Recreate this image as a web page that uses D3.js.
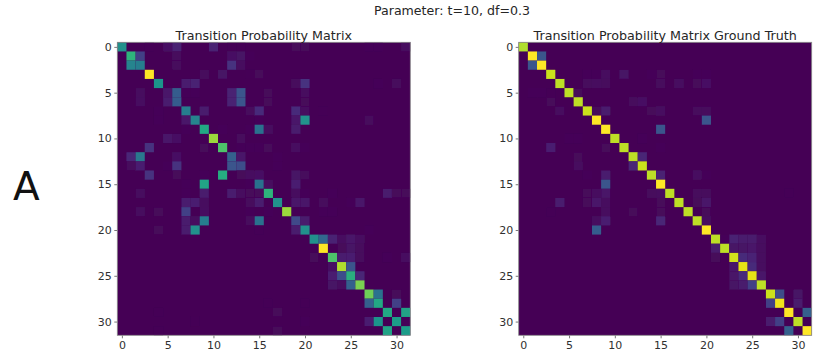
<!DOCTYPE html>
<html><head><meta charset="utf-8">
<script src="https://cdn.jsdelivr.net/npm/d3@7"></script>
<style>
html,body{margin:0;padding:0;background:#fff;overflow:hidden}
text{font-family:"DejaVu Sans",sans-serif;fill:#262626}
</style></head><body>
<svg id="c" width="830" height="359"></svg>
<script>
const suptitle = "Parameter: t=10, df=0.3";
const titleLeft = "Transition Probability Matrix";
const titleRight = "Transition Probability Matrix Ground Truth";
const panelLabel = "A";
const tickValues = [0,5,10,15,20,25,30];
const size = 32;
// Each row lists [column, value] pairs; omitted cells are near zero.
const estimated = [
 [[0,.5],[3,.01],[5,.07],[6,.15],[10,.15],[12,.01],[13,.01],[19,.03],[20,.03],[27,.02],[28,.02],[31,.05]],
 [[1,.65],[2,.25],[6,.04],[12,.07],[13,.08],[14,.02]],
 [[1,.45],[2,.42],[6,.04],[12,.22],[13,.05]],
 [[3,1],[9,.04],[11,.08],[14,.01],[15,.03]],
 [[4,.52],[7,.13],[8,.15],[19,.04],[20,.22],[28,.02],[30,.04]],
 [[2,.05],[5,.1],[6,.32],[7,.02],[8,.02],[12,.15],[13,.3],[16,.03],[20,.05]],
 [[2,.06],[5,.13],[6,.32],[12,.15],[13,.3],[16,.03],[20,.03]],
 [[4,.02],[7,.42],[9,.12],[14,.04],[15,.2],[19,.2],[20,.05],[22,.01]],
 [[4,.02],[7,.1],[8,.45],[15,.02],[19,.1],[20,.5],[27,.04]],
 [[7,.02],[9,.6],[11,.02],[14,.02],[15,.38],[16,.05],[19,.12]],
 [[5,.1],[6,.07],[10,.85],[13,.04]],
 [[3,.22],[9,.03],[11,.72],[13,.02],[14,.02],[15,.02],[16,.03],[19,.06],[20,.02]],
 [[1,.18],[2,.4],[6,.07],[12,.33],[13,.1],[17,.02]],
 [[1,.04],[2,.14],[5,.02],[6,.22],[12,.3],[13,.28],[17,.02]],
 [[3,.22],[6,.03],[9,.02],[11,.62],[13,.03],[14,.06],[15,.07],[19,.08],[20,.04]],
 [[7,.02],[9,.58],[14,.02],[15,.38],[16,.05],[19,.14]],
 [[2,.05],[7,.02],[9,.12],[12,.13],[13,.05],[14,.03],[15,.03],[16,.65],[19,.05],[20,.02],[23,.02],[29,.12],[30,.03],[31,.03]],
 [[7,.13],[8,.14],[9,.05],[14,.04],[15,.13],[17,.5],[19,.1],[20,.1],[22,.04],[25,.02],[26,.1]],
 [[2,.05],[4,.03],[7,.25],[9,.06],[14,.02],[16,.02],[18,.85],[22,.02],[23,.02]],
 [[7,.12],[8,.05],[9,.42],[14,.04],[15,.38],[19,.27],[20,.12]],
 [[4,.03],[7,.12],[8,.5],[15,.01],[19,.12],[20,.5],[27,.02]],
 [[21,.5],[22,.35],[23,.15],[24,.06],[25,.1],[26,.06]],
 [[22,1],[24,.03],[25,.08],[26,.04]],
 [[21,.03],[23,.72],[24,.13],[25,.14],[26,.04],[29,.02],[31,.06]],
 [[23,.07],[24,.88],[25,.3]],
 [[23,.14],[24,.28],[25,.63],[26,.17]],
 [[23,.08],[24,.05],[25,.33],[26,.8]],
 [[27,.78],[28,.38],[30,.03]],
 [[16,.01],[20,.01],[27,.33],[28,.6],[30,.25]],
 [[4,.01],[17,.03],[29,.6],[31,.58]],
 [[8,.01],[20,.02],[27,.14],[28,.52],[30,.55],[31,.02]],
 [[4,.01],[17,.03],[29,.58],[31,.55]]
];
const groundTruth = [
 [[0,.88]],
 [[1,1],[2,.3]],
 [[1,.3],[2,1]],
 [[3,.92],[7,.02],[8,.02],[9,.05],[11,.08],[14,.02],[15,.03],[19,.02],[20,.02]],
 [[4,.9],[7,.04],[8,.05],[9,.04],[15,.04],[17,.06],[19,.03],[20,.07]],
 [[1,.02],[2,.02],[3,.01],[5,.9],[6,.03]],
 [[3,.03],[6,.9],[12,.04],[13,.07]],
 [[4,.05],[7,.92],[8,.03],[9,.12],[14,.03],[15,.06],[19,.04],[20,.04]],
 [[8,1],[20,.3]],
 [[9,1],[15,.3]],
 [[5,.02],[6,.02],[10,.9],[13,.02]],
 [[3,.14],[9,.03],[11,.9],[15,.02]],
 [[6,.03],[12,.9],[13,.17]],
 [[6,.05],[12,.17],[13,.92]],
 [[7,.02],[9,.13],[14,.9],[15,.15],[19,.06],[20,.02]],
 [[9,.3],[15,1]],
 [[7,.03],[8,.05],[9,.09],[14,.04],[15,.05],[16,.9],[19,.04],[20,.04],[29,.01]],
 [[4,.13],[7,.03],[8,.1],[9,.05],[15,.03],[17,.9],[19,.03],[20,.1]],
 [[3,.01],[9,.05],[12,.03],[15,.03],[18,.9],[20,.03]],
 [[8,.05],[9,.14],[15,.17],[19,.9],[20,.05]],
 [[8,.32],[20,1]],
 [[21,.9],[22,.02],[23,.15],[24,.12],[25,.12],[26,.06]],
 [[21,.12],[22,.9],[23,.08],[24,.08],[25,.1],[26,.05]],
 [[21,.03],[23,.93],[24,.2],[25,.16],[26,.05]],
 [[23,.1],[24,.96],[25,.2],[26,.05]],
 [[23,.09],[24,.2],[25,.96],[26,.1]],
 [[23,.08],[24,.12],[25,.25],[26,.9]],
 [[27,.92],[28,.28],[30,.08]],
 [[27,.25],[28,.98],[30,.12]],
 [[29,1],[31,.33]],
 [[27,.12],[28,.25],[30,.9]],
 [[29,.33],[31,1]]
];

const svg = d3.select("#c");
const defs = svg.append("defs");
defs.append("filter").attr("id","soft").attr("x","-5%").attr("y","-5%").attr("width","110%").attr("height","110%")
  .append("feGaussianBlur").attr("stdDeviation",0.45);
const tone = d3.scaleLinear().domain([0,.2,.4,1]).range([0,.12,.4,1]);
const color = v => d3.interpolateViridis(tone(v));

function panel(x0, y0, side, rows, title){
  const x = d3.scaleLinear().domain([-0.5,size-0.5]).range([x0,x0+side]);
  const y = d3.scaleLinear().domain([-0.5,size-0.5]).range([y0,y0+side]);
  const g = svg.append("g");
  const cells = g.append("g").attr("filter","url(#soft)");
  cells.append("rect").attr("x",x(-0.5)).attr("y",y(-0.5)).attr("width",side).attr("height",side).attr("fill",color(0));
  const flat = rows.flatMap((r,i)=>r.map(([c,v])=>({r:i,c,v})));
  cells.selectAll("rect.cell").data(flat).join("rect").attr("class","cell")
    .attr("x",d=>x(d.c-0.5)).attr("y",d=>y(d.r-0.5))
    .attr("width",x(1)-x(0)).attr("height",y(1)-y(0))
    .attr("fill",d=>color(d.v));
  const ax = g.append("g").attr("transform",`translate(0,${y0+side})`)
    .call(d3.axisBottom(x).tickValues(tickValues).tickSize(3).tickPadding(2.5));
  const ay = g.append("g").attr("transform",`translate(${x0},0)`)
    .call(d3.axisLeft(y).tickValues(tickValues).tickSize(3).tickPadding(2.5));
  [ax,ay].forEach(a=>{
    a.select(".domain").remove();
    a.selectAll("line").attr("stroke","#555").attr("stroke-width",0.8);
    a.selectAll("text").style("font-size","11px").style("fill","#303030");
  });
  g.append("rect").attr("x",x0).attr("y",y0).attr("width",side).attr("height",side)
    .attr("fill","none").attr("stroke","#8a8a8a").attr("stroke-width",0.8);
  g.append("text").attr("x",x0+side/2).attr("y",y0-2.5).attr("text-anchor","middle")
    .style("font-size","12.7px").text(title);
}
panel(117.3,42.3,293,estimated,titleLeft);
panel(518.7,42.3,293,groundTruth,titleRight);
svg.append("text").attr("x",452).attr("y",14.5).attr("text-anchor","middle").style("font-size","12.6px").text(suptitle);
svg.append("text").attr("x",13).attr("y",200).style("font-size","39px").style("fill","#111").text(panelLabel);
</script>
</body></html>
